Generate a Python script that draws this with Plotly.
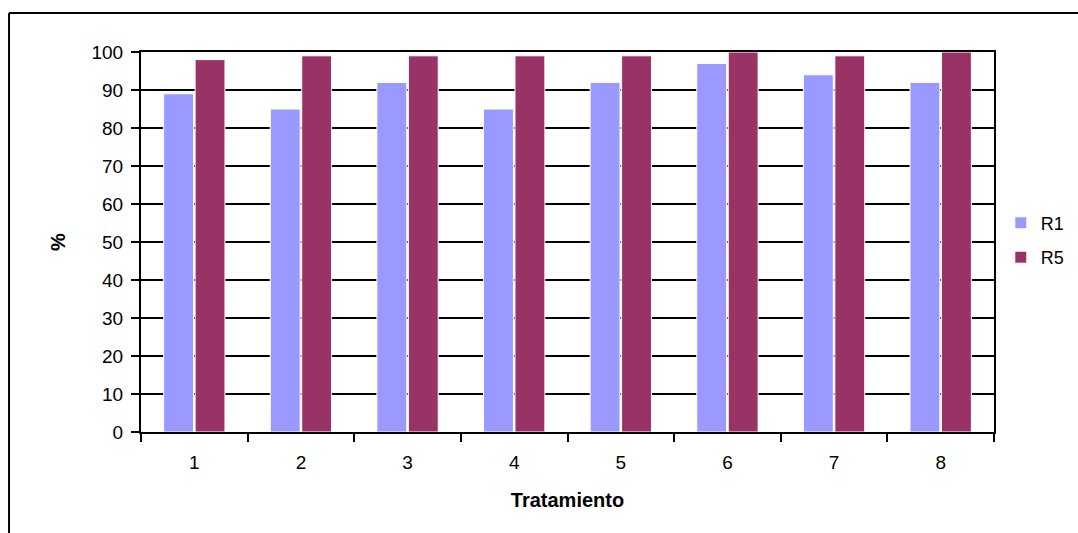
import plotly.graph_objects as go

# Treatment categories and response percentages per series
tratamientos = ["1", "2", "3", "4", "5", "6", "7", "8"]
r1 = [89, 85, 92, 85, 92, 97, 94, 92]
r5 = [98, 99, 99, 99, 99, 100, 99, 100]
y_ticks = [0, 10, 20, 30, 40, 50, 60, 70, 80, 90, 100]

FONT = "Liberation Sans, Arial, sans-serif"

fig = go.Figure()
fig.add_trace(go.Bar(
    x=tratamientos, y=r1, name="R1", legendgroup="r1",
    marker=dict(color="#9999FF", line=dict(color="white", width=1)),
))
fig.add_trace(go.Bar(
    x=tratamientos, y=r5, name="R5", legendgroup="r5",
    marker=dict(color="#993366", line=dict(color="white", width=1)),
))

# Outer chart frame (left and top edges)
frame = dict(type="line", xref="paper", yref="paper",
             line=dict(color="black", width=2))
fig.add_shape(**frame, x0=-0.1547, x1=-0.1547, y0=1.1026, y1=-0.35)
fig.add_shape(**frame, x0=-0.1547, x1=1.2, y0=1.1026, y1=1.1026)

fig.update_layout(
    width=1078, height=533,
    margin=dict(l=141, r=84, t=52, b=101, autoexpand=False),
    paper_bgcolor="white", plot_bgcolor="white",
    barmode="group", bargap=0.41, bargroupgap=0.05,
    font=dict(family=FONT, size=19, color="black"),
    legend=dict(x=1.008, y=0.505, xanchor="left", yanchor="middle",
                font=dict(size=18), tracegroupgap=8,
                bgcolor="rgba(0,0,0,0)"),
    xaxis=dict(
        type="category", showline=True, mirror=True, linecolor="black",
        linewidth=2, ticks="outside", tickson="boundaries", ticklen=8,
        tickwidth=2, tickcolor="black", showgrid=False,
        layer="below traces", ticklabelstandoff=12,
        title=dict(text="<b>Tratamiento</b>", font=dict(size=20), standoff=21),
    ),
    yaxis=dict(
        range=[0, 100], tickvals=y_ticks, showline=True, mirror=True,
        linecolor="black", linewidth=2, ticks="outside", ticklen=8,
        tickwidth=2, tickcolor="black", showgrid=True, gridcolor="black",
        gridwidth=1.5, zeroline=False, layer="below traces",
        ticklabelstandoff=4,
        title=dict(text="<b>%</b>", font=dict(size=20), standoff=20),
    ),
)

fig.write_html("out.html")
